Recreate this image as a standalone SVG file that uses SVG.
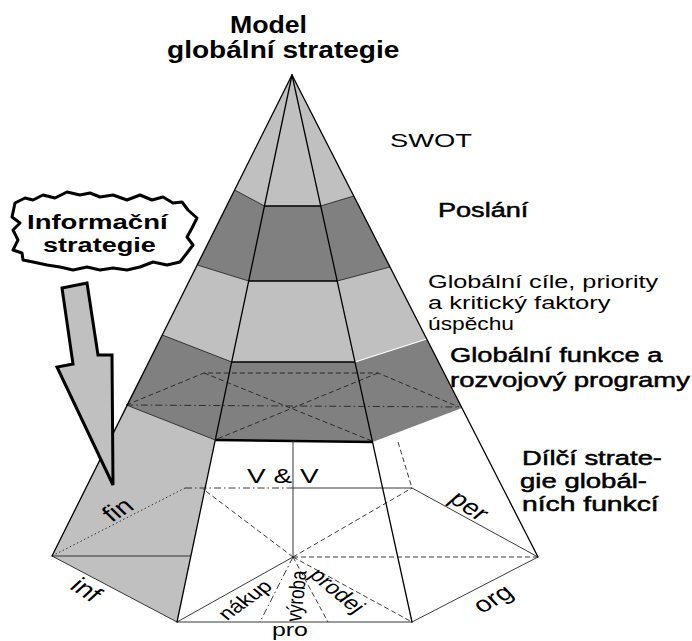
<svg xmlns="http://www.w3.org/2000/svg" width="692" height="641" viewBox="0 0 692 641">
  <style>
    .light { fill: #c0c0c0; }
    .dark { fill: #808080; }
    .edge { stroke: #000; stroke-width: 1.3; fill: none; stroke-linecap: round; }
    .cut { stroke: #222; stroke-width: 0.9; fill: none; }
    .front { stroke: #000; stroke-width: 1.6; fill: none; }
    .thin { stroke: #222; stroke-width: 0.9; fill: none; }
    .dash { stroke: #222; stroke-width: 0.9; fill: none; stroke-dasharray: 5 3; }
    .dashdot { stroke: #222; stroke-width: 0.9; fill: none; stroke-dasharray: 7 3 1.5 3; }
    .dot { stroke: #222; stroke-width: 0.9; fill: none; stroke-dasharray: 1.5 2.5; }
    .t { font-family: "Liberation Sans", Arial, sans-serif; fill: #000; }
    .b { font-weight: bold; }
    .m { stroke: #000; stroke-width: 0.5; }
  </style>

  <!-- pyramid: horizontal bands from apex (292,75) to the hexagonal base -->
  <g id="band-swot">
    <polygon class="light" points="292,75 234.6,190 264.5,206 320.7,206 353.8,196"/>
  </g>
  <g id="band-poslani">
    <polygon class="dark" points="234.6,190 264.5,206 320.7,206 353.8,196 390,267 337.2,281 248.7,281 197.2,265"/>
  </g>
  <g id="band-cile">
    <polygon class="light" points="197.2,265 248.7,281 337.2,281 390,267 426.7,339 355,362 231.7,362 162.3,335"/>
  </g>
  <g id="band-funkce">
    <polygon class="dark" points="162.3,335 231.7,362 355,362 426.7,339 462,408 372.5,442 215.3,440 126.3,405"/>
    <!-- hidden section of the pyramid at this level -->
    <polyline class="dash" points="126.3,405 204,373 378,373 459,407"/>
    <line class="dashdot" x1="126.3" y1="405" x2="459" y2="407"/>
    <line class="dash" x1="204" y1="373" x2="372" y2="441"/>
    <line class="dash" x1="378" y1="373" x2="217" y2="439"/>
  </g>
  <g id="face-informacni">
    <polygon class="light" points="126.3,405 215.3,440 177,622 52,556"/>
  </g>

  <!-- band boundaries -->
  <g id="band-lines">
    <polyline class="cut" points="234.6,190 264.5,206"/>
    <polyline class="cut" points="320.7,206 353.8,196"/>
    <polyline class="cut" points="197.2,265 248.7,281"/>
    <polyline class="cut" points="337.2,281 390,267"/>
    <polyline class="cut" points="162.3,335 231.7,362"/>
    <polyline stroke="#fff" stroke-width="1.2" fill="none" points="355,362 426.7,339"/>
    <polyline class="cut" points="126.3,405 215.3,440"/>
    <line class="front" x1="264.5" y1="206" x2="320.7" y2="206"/>
    <line class="front" x1="248.7" y1="281" x2="337.2" y2="281"/>
    <line class="front" x1="231.7" y1="362" x2="355" y2="362"/>
    <line stroke="#000" stroke-width="2.6" x1="215.3" y1="440" x2="372.5" y2="442"/>
  </g>

  <!-- base of the pyramid: functional sectors -->
  <g id="base">
    <line class="dot" x1="52" y1="556" x2="185" y2="488"/>
    <line class="dashdot" x1="185" y1="488" x2="293" y2="488"/>
    <line class="thin" x1="293" y1="488" x2="412" y2="488"/>
    <line class="thin" x1="412" y1="488" x2="538" y2="557"/>
    <line class="thin" x1="538" y1="557" x2="412" y2="622"/>
    <line class="thin" x1="412" y1="622" x2="177" y2="622"/>
    <line class="thin" x1="177" y1="622" x2="52" y2="556"/>
    <line class="thin" x1="52" y1="556" x2="191" y2="556"/>
    <line class="dash" x1="293" y1="557" x2="538" y2="557"/>
    <line class="dash" x1="293" y1="557" x2="203" y2="489"/>
    <line class="dash" x1="293" y1="557" x2="412" y2="488"/>
    <line class="thin" x1="293" y1="557" x2="177" y2="622"/>
    <line class="dash" x1="293" y1="557" x2="412" y2="622"/>
    <line class="dashdot" x1="293" y1="557" x2="260" y2="622"/>
    <line class="dash" x1="293" y1="557" x2="328" y2="622"/>
    <line class="thin" x1="293" y1="557" x2="293" y2="441"/>
    <line class="dash" x1="398" y1="442" x2="412" y2="488"/>
  </g>

  <!-- pyramid edges -->
  <g id="edges">
    <line class="edge" x1="292" y1="75" x2="52" y2="556"/>
    <line class="edge" x1="292" y1="75" x2="177" y2="622"/>
    <line class="edge" x1="292" y1="75" x2="412" y2="622"/>
    <line class="edge" x1="292" y1="75" x2="538" y2="557"/>
  </g>

  <!-- labels of the base sectors (set in a 1.3x wide type) -->
  <g id="sector-labels">
    <text class="t" font-size="20" transform="translate(247,483) scale(1.4,1)">V &amp; V</text>
    <text class="t" font-size="19" transform="translate(272,636) scale(1.31,1)">pro</text>
    <text class="t" font-size="22" text-anchor="middle" transform="translate(118,510) scale(1.3,1) rotate(-38)" y="7">fin</text>
    <text class="t" font-size="22" text-anchor="middle" transform="translate(86,590) scale(1.3,1) rotate(40)" y="7">inf</text>
    <text class="t" font-size="18" text-anchor="middle" transform="translate(245,600) scale(1.3,1) rotate(-43)" y="6">nákup</text>
    <text class="t" font-size="17" text-anchor="middle" transform="translate(296,596) scale(1.3,1) rotate(-85)" y="6">výroba</text>
    <text class="t" font-size="19" text-anchor="middle" transform="translate(337,591) scale(1.3,1) rotate(47)" y="6">prodej</text>
    <text class="t" font-size="22" text-anchor="middle" transform="translate(469,506) scale(1.3,1) rotate(41)" y="7">per</text>
    <text class="t" font-size="22" text-anchor="middle" transform="translate(493,599) scale(1.3,1) rotate(-36)" y="7">org</text>
  </g>

  <!-- title -->
  <g id="title">
    <text class="t b" font-size="23" transform="translate(230,33) scale(1.16,1)">Model</text>
    <text class="t b" font-size="24" transform="translate(167,58) scale(1.17,1)">globální strategie</text>
  </g>

  <!-- level descriptions -->
  <g id="label-swot">
    <text class="t" font-size="19" transform="translate(390,147) scale(1.44,1)">SWOT</text>
  </g>
  <g id="label-poslani">
    <text class="t m" font-size="21" transform="translate(438,217) scale(1.29,1)">Poslání</text>
  </g>
  <g id="label-cile">
    <text class="t" font-size="18.5" transform="translate(428,288) scale(1.366,1)">Globální cíle, priority</text>
    <text class="t" font-size="18.5" transform="translate(428,309) scale(1.376,1)">a kritický faktory</text>
    <text class="t" font-size="18.5" transform="translate(428,330) scale(1.23,1)">úspěchu</text>
  </g>
  <g id="label-funkce">
    <text class="t m" font-size="21" transform="translate(450,362) scale(1.3,1)">Globální funkce a</text>
    <text class="t m" font-size="21" transform="translate(450,387) scale(1.31,1)">rozvojový programy</text>
  </g>
  <g id="label-dilci">
    <text class="t m" font-size="20.5" transform="translate(522,465) scale(1.336,1)">Dílčí strate-</text>
    <text class="t m" font-size="20.5" transform="translate(520,488) scale(1.343,1)">gie globál-</text>
    <text class="t m" font-size="20.5" transform="translate(522,511) scale(1.38,1)">ních funkcí</text>
  </g>

  <!-- information strategy bubble -->
  <g id="informacni-strategie">
    <polygon fill="#fff" stroke="#000" stroke-width="3" stroke-linejoin="round"
      points="15,203 25,198 33,200 43,195 55,198 67,192 80,195 90,193 100,197 113,195 127,200 140,195 152,200 163,197 173,203 182,202 188,210 197,218 192,228 187,237 193,245 187,253 180,262 167,265 153,262 140,267 127,270 113,268 100,270 87,267 73,270 60,267 47,265 33,262 23,260 22,253 13,250 18,240 13,230 20,223 12,217"/>
    <text class="t b" font-size="21" transform="translate(27,228.5) scale(1.31,1)">Informační</text>
    <text class="t b" font-size="21" transform="translate(43,252) scale(1.29,1)">strategie</text>
  </g>

  <!-- block arrow from the bubble down to the information face -->
  <g id="connectors">
    <polygon fill="#c0c0c0" stroke="#000" stroke-width="3" stroke-linejoin="miter"
      points="62,288 87,283 98,355 112,355 113,485 57,367 73,364"/>
  </g>
</svg>
